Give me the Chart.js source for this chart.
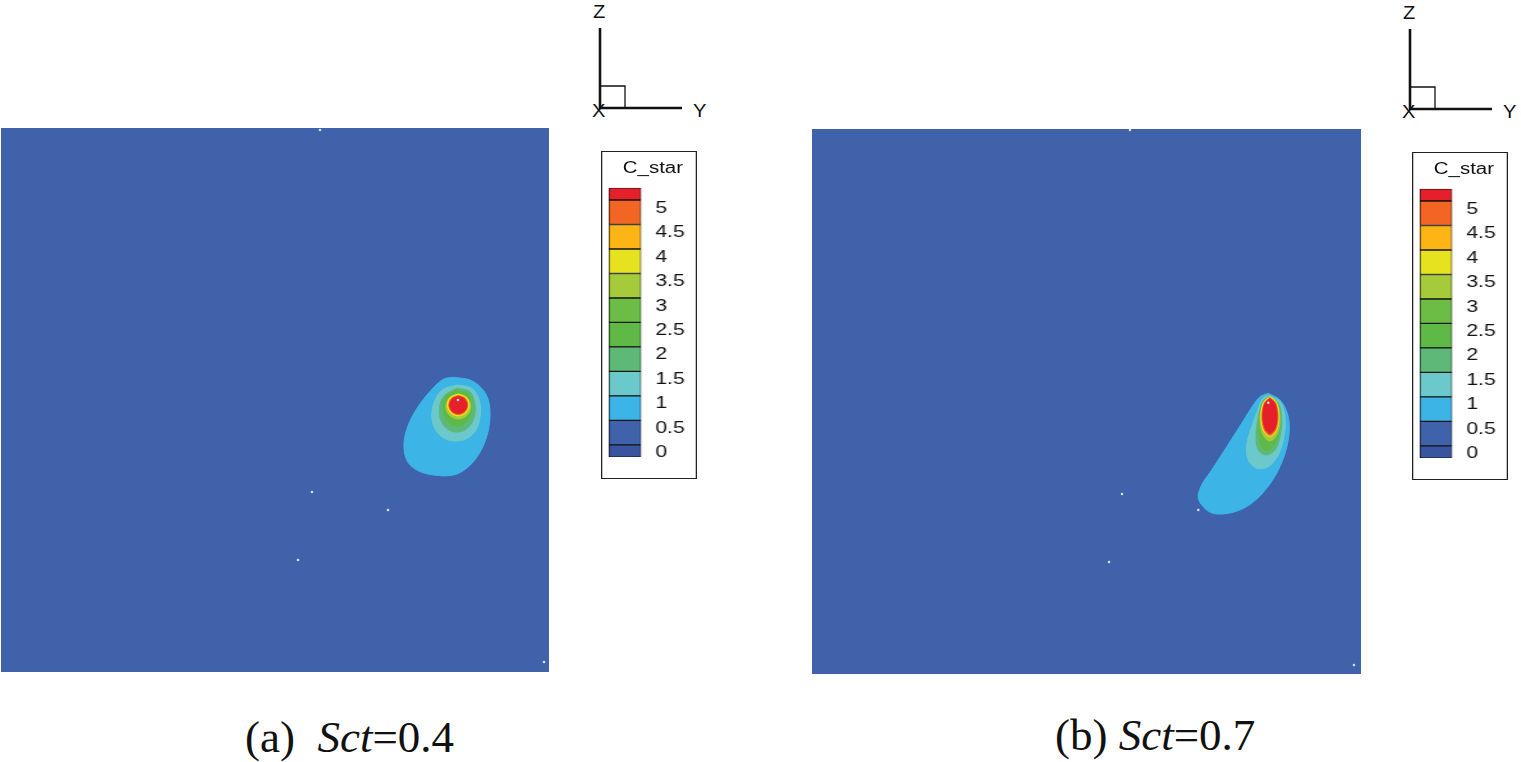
<!DOCTYPE html>
<html>
<head>
<meta charset="utf-8">
<script src="https://cdn.jsdelivr.net/npm/chart.js@4.4.1/dist/chart.umd.min.js"></script>
<style>
body { margin: 0; background: #fff; width: 1521px; height: 762px; position: relative; overflow: hidden; font-family: "Liberation Sans", Arial, sans-serif; }
.panel { position: absolute; }
.legend { position: absolute; width: 75px; height: 328px; border: 1.2px solid #222; box-sizing: border-box; transform: scaleX(1.28); transform-origin: 0 0; background: #fff; }
.legend .box { position: absolute; left: 0; top: 0; right: 0; bottom: 0; }
.legend .ttl { position: absolute; left: 16px; top: 8px; font-size: 16px; line-height: 16px; color: #111; }
.cap { position: absolute; font-family: "Liberation Serif", "Times New Roman", serif; font-size: 45px; line-height: 45px; white-space: pre; color: #111; }
</style>
</head>
<body>

<svg width="1521" height="130" style="position:absolute;left:0;top:0" font-family="Liberation Sans, Arial, sans-serif" font-size="17.5" fill="#111">
  <g id="triad">
    <line x1="600" y1="28" x2="600" y2="108" stroke="#111" stroke-width="2.6"/>
    <line x1="599" y1="108" x2="682" y2="108" stroke="#111" stroke-width="2.6"/>
    <polyline points="600,86 625,86 625,108" fill="none" stroke="#111" stroke-width="1.3"/>
    <text x="593" y="18.5" transform="translate(593 0) scale(1.15 1) translate(-593 0)">Z</text>
    <text x="693" y="117.5" transform="translate(693 0) scale(1.15 1) translate(-693 0)">Y</text>
    <text x="592" y="117.5" transform="translate(592 0) scale(1.15 1) translate(-592 0)">X</text>
  </g>
  <use href="#triad" transform="translate(810,1)"/>
</svg>

<div class="panel" style="left:1px;top:128px;width:548px;height:544px"><canvas id="panelA"></canvas></div>
<div class="panel" style="left:812px;top:129px;width:549px;height:545px"><canvas id="panelB"></canvas></div>

<div class="legend" style="left:601px;top:151px">
  <div class="box"><canvas id="legendA"></canvas></div>
  <span class="ttl">C_star</span>
</div>
<div class="legend" style="left:1412px;top:152px">
  <div class="box"><canvas id="legendB"></canvas></div>
  <span class="ttl">C_star</span>
</div>

<div class="cap" style="left:245px;top:715px">(a)&ensp;<i>Sct</i>=0.4</div>
<div class="cap" style="left:1055px;top:713px">(b) <i>Sct</i>=0.7</div>

<script>
// C_star levels shown in the colour legend
var levelValues = [0, 0.5, 1, 1.5, 2, 2.5, 3, 3.5, 4, 4.5, 5];
var levelLabels = ['0', '0.5', '1', '1.5', '2', '2.5', '3', '3.5', '4', '4.5', '5'];
var bandEdges = [-0.25, 0, 0.5, 1, 1.5, 2, 2.5, 3, 3.5, 4, 4.5, 5, 5.25];
var bandColors = ['#3a55a0', '#4062ab', '#3cb4e6', '#6cc9cb', '#5eb979', '#5fb947', '#6cbd45',
                  '#a5cb3a', '#e7e21f', '#fdb515', '#f26522', '#e5202a'];

// contour outlines, (Y, Z) across the section in % of width / height
// panel (a) Sct=0.4
var a_lvl05 = [[82.54,54.17],[85.58,53.68],[87.72,52.15],[88.93,50.0],[89.23,46.93],[88.63,43.25],
               [87.10,39.89],[84.98,37.44],[82.54,36.21],[78.89,36.21],[75.86,37.13],[74.03,38.97],
               [73.54,42.04],[74.32,45.40],[76.00,48.60],[78.30,51.60],[80.71,53.81]];
var a_lvl10 = [[83.16,52.76],[85.89,52.15],[87.28,50.0],[87.41,46.93],[86.50,44.17],[84.36,42.65],
               [81.62,42.65],[79.51,44.17],[78.59,46.93],[79.20,50.0],[80.71,51.97]];
var a_lvl15 = [[83.16,52.15],[85.58,51.53],[86.50,49.08],[86.19,46.32],[84.67,44.49],[82.54,44.17],
               [80.71,45.40],[79.98,47.85],[80.71,50.61]];
var a_lvl20 = [[83.16,51.84],[85.27,51.05],[85.89,48.77],[85.27,46.32],[83.45,45.22],[81.62,46.01],
               [80.71,48.16],[81.20,50.61]];
var a_lvl30 = [[83.45,51.11],[85.06,50.43],[85.73,48.81],[85.06,47.19],[83.45,46.51],[81.84,47.19],
               [81.17,48.81],[81.84,50.43]];
var a_lvl35 = [[83.45,51.10],[84.87,50.51],[85.46,49.08],[84.87,47.65],[83.45,47.06],[82.03,47.65],
               [81.44,49.08],[82.03,50.51]];
var a_lvl45 = [[83.45,50.83],[84.68,50.32],[85.18,49.08],[84.68,47.84],[83.45,47.33],[82.22,47.84],
               [81.72,49.08],[82.22,50.32]];
var a_lvl50 = [[83.45,50.64],[84.55,50.18],[85.00,49.08],[84.55,47.98],[83.45,47.52],[82.35,47.98],
               [81.90,49.08],[82.35,50.18]];
var a_specks = [[58.21,99.63],[56.75,33.09],[70.62,29.78],[54.20,20.59],[99.09,1.84],[83.39,50.0]];

// panel (b) Sct=0.7
var b_lvl05 = [[83.11,51.50],[85.25,50.28],[86.58,47.83],[86.94,44.77],[86.34,41.10],[84.94,37.43],
               [82.82,34.07],[80.09,31.32],[77.05,29.78],[73.72,29.36],[71.89,30.09],[70.36,32.24],
               [70.98,34.68],[72.81,37.43],[75.54,41.71],[78.27,46.00],[80.38,49.36],[81.60,50.88]];
var b_lvl10 = [[83.11,51.19],[85.25,49.96],[86.16,47.21],[85.97,43.54],[84.94,40.18],[83.11,38.04],
               [81.00,37.74],[79.47,39.27],[79.18,42.02],[80.09,45.38],[81.29,48.75],[82.09,50.59]];
var b_lvl15 = [[83.11,50.88],[84.94,49.67],[85.56,46.92],[85.25,43.54],[84.34,41.10],[82.70,40.18],
               [81.29,41.10],[80.87,43.54],[81.29,47.21],[82.09,49.96]];
var b_lvl20 = [[83.11,50.88],[84.64,49.96],[85.12,47.21],[84.83,43.54],[83.73,41.41],[82.51,41.10],
               [81.60,42.62],[81.42,46.00],[81.91,49.36]];
var b_lvl30 = [[83.42,50.83],[84.71,49.65],[85.24,46.79],[84.71,43.93],[83.42,42.75],[82.13,43.93],
               [81.60,46.79],[82.13,49.65]];
var b_lvl35 = [[83.42,50.92],[84.58,49.85],[85.06,47.25],[84.58,44.65],[83.42,43.58],[82.26,44.65],
               [81.78,47.25],[82.26,49.85]];
var b_lvl45 = [[83.42,50.70],[84.45,49.69],[84.88,47.25],[84.45,44.81],[83.42,43.80],[82.39,44.81],
               [81.96,47.25],[82.39,49.69]];
var b_lvl50 = [[83.42,50.55],[84.32,49.61],[84.70,47.34],[84.32,45.07],[83.42,44.13],[82.52,45.07],
               [82.14,47.34],[82.52,49.61]];
var b_specks = [[57.92,99.82],[56.47,33.03],[54.10,20.55],[98.72,1.65],[70.36,30.09],[83.11,49.78]];

Chart.defaults.font.family = '"Liberation Sans", Arial, sans-serif';

function toPts(list) {
    var pts = list.map(function (p) { return { x: p[0], y: p[1] }; });
    pts.push({ x: list[0][0], y: list[0][1] });
    return pts;
}

function contour(list, band) {
    return {
        data: toPts(list),
        backgroundColor: bandColors[band],
        borderColor: bandColors[band],
        borderWidth: 1,
        pointRadius: 0,
        tension: 0.35,
        fill: 'shape'
    };
}

var background = {
    id: 'background',
    beforeDatasetsDraw: function (chart) {
        var a = chart.chartArea;
        var ctx = chart.ctx;
        ctx.save();
        ctx.fillStyle = bandColors[1];
        ctx.fillRect(a.left, a.top, a.right - a.left, a.bottom - a.top);
        ctx.restore();
    }
};

function drawPanel(id, c50, c45, c35, c30, c20, c15, c10, c05, specks) {
    new Chart(document.getElementById(id), {
        type: 'line',
        data: {
            datasets: [
                {
                    data: specks.map(function (p) { return { x: p[0], y: p[1] }; }),
                    showLine: false,
                    pointRadius: 1.3,
                    pointBorderWidth: 0,
                    pointBackgroundColor: '#d6e0f4'
                },
                contour(c50, 11),
                contour(c45, 10),
                contour(c35, 8),
                contour(c30, 7),
                contour(c20, 5),
                contour(c15, 4),
                contour(c10, 3),
                contour(c05, 2)
            ]
        },
        options: {
            animation: false,
            responsive: true,
            maintainAspectRatio: false,
            layout: { padding: 0, autoPadding: false },
            scales: {
                x: { type: 'linear', min: 0, max: 100, display: false },
                y: { type: 'linear', min: 0, max: 100, display: false }
            },
            plugins: { legend: { display: false }, tooltip: { enabled: false } }
        },
        plugins: [background]
    });
}

function drawLegend(id) {
    var sets = [];
    for (var i = 0; i < bandColors.length; i++) {
        sets.push({
            data: [[bandEdges[i], bandEdges[i + 1]]],
            backgroundColor: bandColors[i],
            borderColor: '#151515',
            borderWidth: 1,
            borderSkipped: false,
            barPercentage: 1,
            categoryPercentage: 1,
            grouped: false
        });
    }
    new Chart(document.getElementById(id), {
        type: 'bar',
        data: { labels: [''], datasets: sets },
        options: {
            animation: false,
            responsive: true,
            maintainAspectRatio: false,
            layout: { padding: { left: 5, right: 7, top: 35.8, bottom: 17.8 }, autoPadding: false },
            scales: {
                x: { display: false },
                y: {
                    position: 'right',
                    min: bandEdges[0],
                    max: bandEdges[bandEdges.length - 1],
                    grid: { display: false, drawTicks: false },
                    border: { display: false },
                    afterBuildTicks: function (axis) {
                        axis.ticks = levelValues.map(function (v) { return { value: v }; });
                    },
                    afterFit: function (axis) {
                        axis.width = 35.6;
                    },
                    ticks: {
                        autoSkip: false,
                        padding: 11,
                        labelOffset: 8,
                        color: '#111',
                        font: { size: 16.5 },
                        callback: function (value, index) { return levelLabels[index]; }
                    }
                }
            },
            plugins: { legend: { display: false }, tooltip: { enabled: false } }
        }
    });
}

drawPanel('panelA', a_lvl50, a_lvl45, a_lvl35, a_lvl30, a_lvl20, a_lvl15, a_lvl10, a_lvl05, a_specks);
drawPanel('panelB', b_lvl50, b_lvl45, b_lvl35, b_lvl30, b_lvl20, b_lvl15, b_lvl10, b_lvl05, b_specks);
drawLegend('legendA');
drawLegend('legendB');
</script>
</body>
</html>
